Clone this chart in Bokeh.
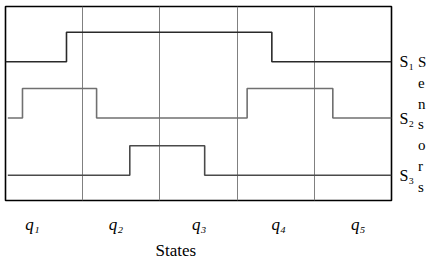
from bokeh.plotting import figure
from bokeh.models import Range1d, FixedTicker, Title
from bokeh.embed import file_html
from bokeh.resources import INLINE

# ---- data ----
states = ["q₁", "q₂", "q₃", "q₄", "q₅"]
state_label_pos = [0.35, 1.43, 2.51, 3.54, 4.57]
state_boundaries = [1, 2, 3, 4]
sensors = ["S₁", "S₂", "S₃"]
sensor_base = [7.15, 4.25, 1.3]
pulse_height = 1.52

s1_t = [0.0, 0.79, 3.45, 5.0]
s1_v = [0, 1, 0, 0]
s2_t = [0.03, 0.22, 1.18, 3.13, 4.24, 5.0]
s2_v = [0, 1, 0, 1, 0, 0]
s3_t = [0.03, 1.61, 2.58, 5.0]
s3_v = [0, 1, 0, 0]

FONT = "Liberation Serif"

p = figure(width=432, height=261, x_range=Range1d(0, 5), y_range=Range1d(0, 10),
           output_backend="svg", toolbar_location=None, y_axis_location="right",
           min_border_left=5, min_border_top=6, min_border_right=41, min_border_bottom=58)
p.background_fill_color = "white"
p.border_fill_color = "white"
p.outline_line_color = "black"
p.outline_line_width = 1.6

sig_t = [s1_t, s2_t, s3_t]
sig_v = [s1_v, s2_v, s3_v]
colors = ["#2a2a2a", "#707070", "#4a4a4a"]
for t, v, base, c in zip(sig_t, sig_v, sensor_base, colors):
    y = [base + pulse_height * k for k in v]
    p.step(t, y, mode="after", line_color=c, line_width=1.6)

# grid = state boundaries
p.xgrid.ticker = FixedTicker(ticks=state_boundaries)
p.xgrid.grid_line_color = "#808080"
p.xgrid.grid_line_width = 1
p.ygrid.visible = False

# x axis: states
xa = p.xaxis[0]
xa.ticker = FixedTicker(ticks=state_label_pos)
xa.major_label_overrides = {pos: lab for pos, lab in zip(state_label_pos, states)}
xa.major_tick_line_color = None
xa.minor_tick_line_color = None
xa.axis_line_color = None
xa.major_label_text_font = FONT
xa.major_label_text_font_style = "italic"
xa.major_label_text_font_size = "17px"
xa.major_label_text_color = "black"
xa.major_label_standoff = 8

# right axis: sensors
ya = p.yaxis[0]
ya.ticker = FixedTicker(ticks=sensor_base)
ya.major_label_overrides = {b: s for b, s in zip(sensor_base, sensors)}
ya.major_tick_line_color = None
ya.minor_tick_line_color = None
ya.axis_line_color = None
ya.major_label_text_font = FONT
ya.major_label_text_font_size = "16px"
ya.major_label_text_color = "black"
ya.major_label_standoff = 2
ya.axis_label = "\n\nS\ne\nn\ns\no\nr\ns"
ya.axis_label_orientation = "horizontal"
ya.axis_label_text_font = FONT
ya.axis_label_text_font_style = "normal"
ya.axis_label_text_font_size = "15px"
ya.axis_label_text_line_height = 1.30
ya.axis_label_text_color = "black"
ya.axis_label_standoff = 1

# x title
p.add_layout(Title(text="States", align="left", offset=150, standoff=4,
                   text_font=FONT, text_font_size="17px", text_font_style="normal",
                   text_color="black"), "below")

open("out.html", "w").write(file_html(p, INLINE))
